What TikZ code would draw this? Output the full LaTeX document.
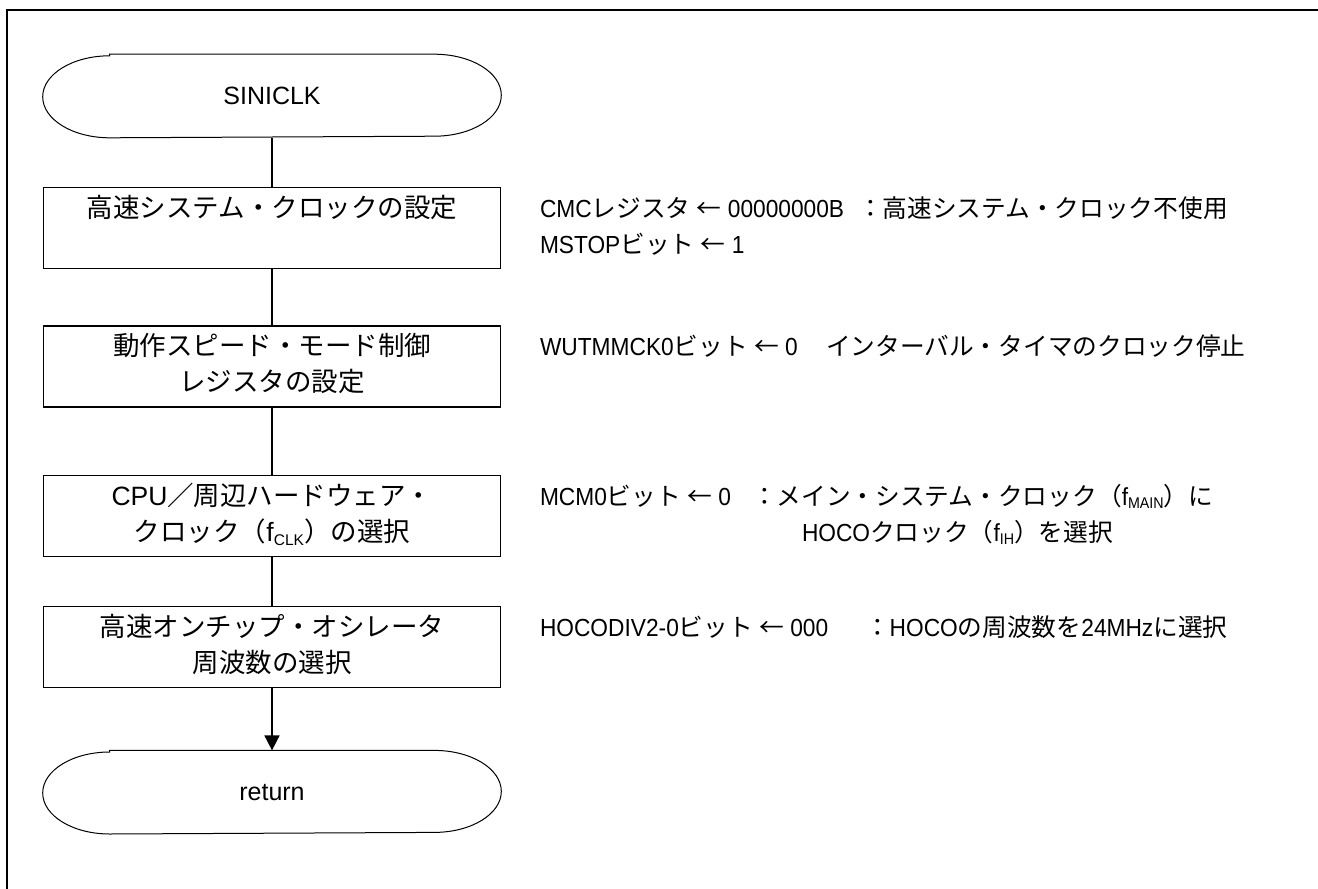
\documentclass[tikz,border=0pt]{standalone}
\usepackage{fontspec}
\setmainfont{Liberation Sans}
\newfontfamily\lat{Liberation Sans}
\newfontfamily\notefont{Liberation Sans}[FakeStretch=0.92]
\newfontfamily\jp{Noto Sans CJK JP}
\usetikzlibrary{arrows.meta,positioning}
\newcommand\subtxt[1]{\raisebox{-0.3ex}{\fontsize{15.5}{15.5}\selectfont #1}}

\begin{document}
\begin{tikzpicture}[x=1pt,y=-1pt,>={Triangle[length=15pt,width=15pt]},
                    node distance=49pt,line width=1.6pt]
  \tikzstyle{term}=[minimum width=457pt,minimum height=82pt,inner sep=0pt,
                    font=\fontsize{25}{30}\selectfont]
  \tikzstyle{proc}=[draw,line width=1.4pt,minimum width=457pt,minimum height=81pt,
                    inner sep=0pt,align=center,font=\fontsize{26.5}{36}\selectfont\jp]
  \tikzstyle{note}=[anchor=west,inner sep=0pt,align=left,
                    font=\fontsize{24.7}{36}\selectfont\notefont]

  \useasboundingbox (0,0) rectangle (1318,889);
  \draw[line width=2pt] (7,889) -- (7,10) -- (1318,10);

  \node[term]                        (start)   at (272,96) {SINICLK};
  \node[proc,below=49pt of start]    (hsclk)   {高速システム・クロックの設定\strut\\\strut};
  \node[proc,below=56pt of hsclk]    (modesel) {動作スピード・モード制御\strut\\レジスタの設定\strut};
  \node[proc,below=67pt of modesel]  (cpuclk)  {{\lat CPU}／周辺ハードウェア・\strut\\
                                                クロック（{\lat f\subtxt{CLK}}）の選択\strut};
  \node[proc,below=49pt of cpuclk]   (hoco)    {高速オンチップ・オシレータ\strut\\周波数の選択\strut};
  \node[term,below=62pt of hoco]     (ret)     {return};

  % terminal outlines
  \foreach \n in {start,ret}
    \draw[line width=1pt] ([xshift=67pt]\n.north west) -- ([xshift=-67pt]\n.north east)
      arc[start angle=90,end angle=-90,x radius=67pt,y radius=41pt]
      -- ([xshift=67pt]\n.south west)
      arc[start angle=270,end angle=90,x radius=67pt,y radius=41pt] -- cycle;

  \draw (start) -- (hsclk);
  \draw (hsclk) -- (modesel);
  \draw (modesel) -- (cpuclk);
  \draw (cpuclk) -- (hoco);
  \draw[->] (hoco) -- (ret);

  % notes
  \node[note,right=38pt of hsclk]   (hsclknote)
    {\makebox[318pt][l]{CMC{\jp レジスタ} {\jp ←} 00000000B}{\jp ：高速システム・クロック不使用}\strut\\
     MSTOP{\jp ビット} {\jp ←} 1\strut};
  \node[note,right=38pt of modesel] (modenote)
    {\makebox[286pt][l]{WUTMMCK0{\jp ビット} {\jp ←} 0}{\jp インターバル・タイマのクロック停止}\strut\\\strut};
  \node[note,right=38pt of cpuclk]  (cpunote)
    {\makebox[212pt][l]{MCM0{\jp ビット} {\jp ←} 0}{\jp ：メイン・システム・クロック（}f\subtxt{MAIN}{\jp ）に}\strut\\
     \hspace*{262pt}HOCO{\jp クロック（}f\subtxt{IH}{\jp ）を選択}\strut};
  \node[note,right=38pt of hoco]    (hoconote)
    {\makebox[325pt][l]{HOCODIV2-0{\jp ビット} {\jp ←} 000}{\jp ：}HOCO{\jp の周波数を}24MHz{\jp に選択}\strut\\\strut};
\end{tikzpicture}
\end{document}
